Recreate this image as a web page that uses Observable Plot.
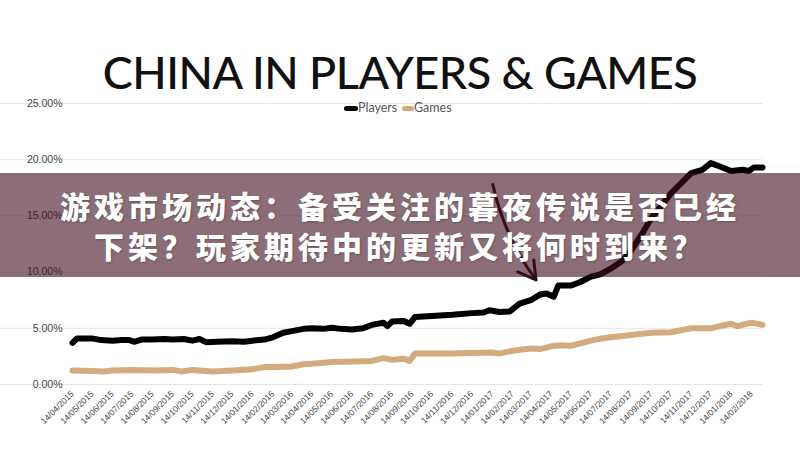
<!DOCTYPE html>
<html><head><meta charset="utf-8">
<script src="https://cdn.jsdelivr.net/npm/d3@7"></script>
<script src="https://cdn.jsdelivr.net/npm/@observablehq/plot@0.6"></script>
<style>
html,body{margin:0;padding:0;background:#fff;}
#wrap{position:relative;width:800px;height:450px;overflow:hidden;background:#fff;}
#chart svg{display:block;}
#title{position:absolute;left:0;top:50px;width:800px;text-align:center;font-family:Lato,"Open Sans",sans-serif;font-size:45px;font-weight:500;color:#111;white-space:nowrap;line-height:45px;}
.lg{position:absolute;top:101px;font-family:Lato,"Open Sans",sans-serif;font-size:12.5px;color:#555;line-height:14px;white-space:nowrap;}
.sw{position:absolute;top:106px;height:5px;border-radius:3px;}
#banner{position:absolute;left:0;top:173px;width:800px;height:104px;background:rgba(63,13,30,0.6);}
#bannertext{position:absolute;left:0;top:173px;width:800px;height:104px;box-sizing:border-box;padding-top:12px;text-align:center;font-family:"Noto Sans CJK SC",sans-serif;font-weight:900;font-size:30px;letter-spacing:4px;line-height:40px;color:#fff;text-shadow:1px 1px 2px rgba(0,0,0,0.25);}
#bannertext div{height:40px;overflow:visible;}
</style></head>
<body>
<div id="wrap">
  <div id="chart"></div>
  <div id="title"></div>
  <div id="legend"></div>
  <div id="banner"></div>
  <div id="bannertext"></div>
</div>
<script>
const titleText = "CHINA IN PLAYERS & GAMES";
const bannerLines = ["游戏市场动态：备受关注的暮夜传说是否已经", "下架？玩家期待中的更新又将何时到来？"];
const seriesNames = ["Players", "Games"];
const seriesColors = ["#000000", "#d4ab7c"];

const yTicks = [0, 5, 10, 15, 20, 25];
const xTickLabels = ["14/04/2015","14/05/2015","14/06/2015","14/07/2015","14/08/2015","14/09/2015","14/10/2015","14/11/2015","14/12/2015","14/01/2016","14/02/2016","14/03/2016","14/04/2016","14/05/2016","14/06/2016","14/07/2016","14/08/2016","14/09/2016","14/10/2016","14/11/2016","14/12/2016","14/01/2017","14/02/2017","14/03/2017","14/04/2017","14/05/2017","14/06/2017","14/07/2017","14/08/2017","14/09/2017","14/10/2017","14/11/2017","14/12/2017","14/01/2018","14/02/2018"];
const xDomain = ["2015-04-14", "2018-03-03"];

const playerDates = ["2015-04-14","2015-04-21","2015-05-01","2015-05-14","2015-05-28","2015-06-14","2015-06-28","2015-07-10","2015-07-17","2015-07-28","2015-08-14","2015-09-01","2015-09-14","2015-10-01","2015-10-14","2015-10-25","2015-11-05","2015-11-20","2015-12-14","2016-01-01","2016-01-14","2016-02-01","2016-02-14","2016-03-01","2016-03-14","2016-04-01","2016-04-14","2016-05-01","2016-05-14","2016-05-28","2016-06-14","2016-07-01","2016-07-14","2016-08-01","2016-08-07","2016-08-14","2016-09-01","2016-09-10","2016-09-18","2016-10-14","2016-11-14","2016-12-14","2017-01-01","2017-01-10","2017-01-25","2017-02-10","2017-02-25","2017-03-14","2017-03-28","2017-04-07","2017-04-18","2017-04-25","2017-05-14","2017-05-28","2017-06-14","2017-06-28","2017-07-14","2017-08-01","2017-08-14","2017-09-01","2017-09-14","2017-10-01","2017-10-14","2017-10-28","2017-11-14","2017-12-01","2017-12-14","2017-12-28","2018-01-14","2018-02-01","2018-02-10","2018-02-18","2018-03-03"];
const playerValues = [3.7,4.1,4.1,4.1,3.95,3.9,3.95,3.95,3.8,4.0,4.0,4.05,4.0,4.05,3.9,4.05,3.75,3.8,3.85,3.8,3.9,4.0,4.2,4.6,4.75,4.95,5.0,4.95,5.05,4.95,4.9,5.0,5.3,5.5,5.2,5.6,5.65,5.4,6.0,6.1,6.2,6.35,6.4,6.6,6.45,6.5,7.2,7.5,8.0,8.1,7.8,8.8,8.8,9.1,9.6,9.8,10.3,11.0,11.9,13.5,14.8,16.0,17.0,17.8,18.8,19.1,19.7,19.4,19.0,19.1,19.0,19.3,19.3];

const gameDates = ["2015-04-14","2015-05-14","2015-06-01","2015-06-14","2015-07-14","2015-08-14","2015-09-14","2015-09-28","2015-10-14","2015-11-14","2015-12-14","2016-01-14","2016-02-01","2016-02-14","2016-03-14","2016-04-01","2016-04-14","2016-05-14","2016-06-14","2016-07-14","2016-08-01","2016-08-14","2016-09-01","2016-09-10","2016-09-18","2016-10-14","2016-11-14","2016-12-14","2017-01-14","2017-01-25","2017-02-14","2017-03-14","2017-03-28","2017-04-14","2017-05-01","2017-05-14","2017-06-01","2017-06-14","2017-07-01","2017-07-14","2017-08-14","2017-09-14","2017-10-14","2017-11-14","2017-12-14","2017-12-28","2018-01-14","2018-01-24","2018-02-14","2018-03-03"];
const gameValues = [1.25,1.2,1.15,1.25,1.3,1.25,1.3,1.15,1.3,1.15,1.25,1.35,1.55,1.55,1.6,1.8,1.85,2.0,2.05,2.1,2.35,2.2,2.3,2.1,2.75,2.75,2.75,2.8,2.85,2.75,3.0,3.2,3.15,3.4,3.5,3.45,3.7,3.9,4.1,4.2,4.4,4.6,4.65,5.0,5.0,5.2,5.4,5.2,5.5,5.3];

const arrowFrom = {date: "2017-01-15", value: 17.8};
const arrowTo = {date: "2017-03-22", value: 9.3};

const parseIso = d3.utcParse("%Y-%m-%d");
const parseTick = d3.utcParse("%d/%m/%Y");
const fmtTick = d3.utcFormat("%d/%m/%Y");

const rows = [];
playerDates.forEach((d, i) => rows.push({series: seriesNames[0], date: parseIso(d), value: playerValues[i]}));
gameDates.forEach((d, i) => rows.push({series: seriesNames[1], date: parseIso(d), value: gameValues[i]}));
const xTicks = xTickLabels.map(parseTick);
const arrows = [{x1: parseIso(arrowFrom.date), y1: arrowFrom.value, x2: parseIso(arrowTo.date), y2: arrowTo.value}];

const chart = Plot.plot({
  width: 800, height: 450,
  marginTop: 103, marginBottom: 66, marginLeft: 72, marginRight: 38,
  style: {fontFamily: "'Liberation Sans', Arial, sans-serif", background: "transparent"},
  x: {type: "utc", domain: xDomain.map(parseIso)},
  y: {domain: [0, 25]},
  color: {domain: seriesNames, range: seriesColors},
  marks: [
    Plot.gridY(yTicks, {stroke: "#e6e6e6", strokeOpacity: 1, x1: 70}),
    Plot.axisY(yTicks, {tickSize: 0, tickPadding: 10, tickFormat: d => d.toFixed(2) + "%", fontSize: 10.5, fill: "#444", label: null}),
    Plot.axisX(xTicks, {tickSize: 0, tickPadding: 8, tickRotate: -45, tickFormat: fmtTick, fontSize: 8.5, fill: "#444", label: null}),
    Plot.line(rows, {x: "date", y: "value", z: "series", stroke: "series", strokeWidth: 6, strokeLinejoin: "round", strokeLinecap: "round", curve: "linear"}),
    Plot.arrow(arrows, {x1: "x1", y1: "y1", x2: "x2", y2: "y2", bend: -12, stroke: "#2a0f18", strokeWidth: 3, headLength: 10})
  ]
});
document.getElementById("chart").appendChild(chart);

// title
const t = document.getElementById("title");
t.textContent = titleText;
const targetW = 595;
const span = document.createElement("span");
span.textContent = titleText;
span.style.font = getComputedStyle(t).font;
span.style.position = "absolute"; span.style.visibility = "hidden"; span.style.whiteSpace = "nowrap";
document.body.appendChild(span);
const w = span.getBoundingClientRect().width;
span.remove();
t.style.letterSpacing = ((targetW - w) / (titleText.length - 1)) + "px";

// legend
const lg = document.getElementById("legend");
const legendPos = [{sw: 344, swW: 14, tx: 358}, {sw: 402, swW: 12, tx: 414}];
seriesNames.forEach((name, i) => {
  const s = document.createElement("div");
  s.className = "sw"; s.style.left = legendPos[i].sw + "px"; s.style.width = legendPos[i].swW + "px"; s.style.background = seriesColors[i];
  lg.appendChild(s);
  const l = document.createElement("div");
  l.className = "lg"; l.style.left = legendPos[i].tx + "px"; l.textContent = name;
  lg.appendChild(l);
});

// banner
document.getElementById("bannertext").innerHTML = bannerLines.map(s => "<div>" + s + "</div>").join("");
</script>
</body></html>
